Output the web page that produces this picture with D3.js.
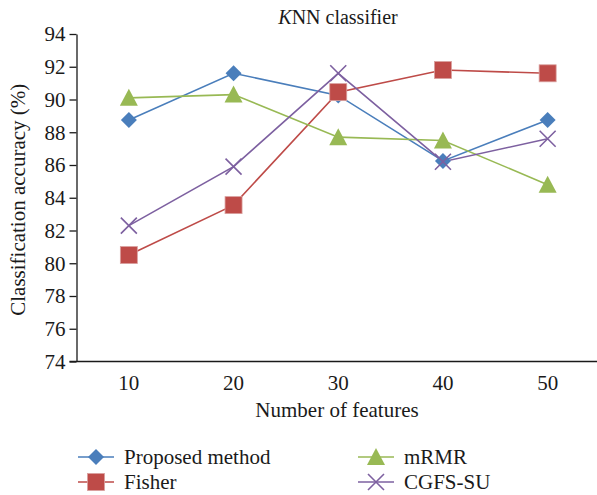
<!DOCTYPE html>
<html>
<head>
<meta charset="utf-8"/>
<script src="https://cdn.jsdelivr.net/npm/d3@7"></script>
<style>
body { margin: 0; background: #fff; }
svg text { font-family: "Liberation Serif", "Times New Roman", serif !important; fill: #1a1a1a; }
.axis path, .axis line { stroke: #1a1a1a; stroke-width: 1.3px; }
.axis text { font-size: 21px; }
</style>
</head>
<body>
<svg id="chart" width="597" height="495"></svg>
<script>
// data
var features = [10, 20, 30, 40, 50];
var proposed = [88.75, 91.6, 90.25, 86.25, 88.75];
var fisher   = [80.5, 83.55, 90.45, 91.8, 91.6];
var mrmr     = [90.1, 90.3, 87.7, 87.5, 84.8];
var cgfs     = [82.3, 85.9, 91.6, 86.2, 87.6];
var yTicks = [74, 76, 78, 80, 82, 84, 86, 88, 90, 92, 94];

var series = [
  {name: "Proposed method", values: proposed, color: "#4a7ebb", shape: "diamond"},
  {name: "Fisher", values: fisher, color: "#be4b48", shape: "square"},
  {name: "mRMR", values: mrmr, color: "#98b954", shape: "triangle"},
  {name: "CGFS-SU", values: cgfs, color: "#7d60a0", shape: "cross"}
];

var svg = d3.select("#chart");
var plotL = 76.5, plotR = 600, plotT = 34, plotB = 361.5;

var x = d3.scaleBand().domain(features).range([plotL, plotR]);
var y = d3.scaleLinear().domain([74, 94]).range([plotB, plotT]);

svg.append("g")
    .attr("class", "axis")
    .attr("transform", "translate(" + plotL + ",0)")
    .call(d3.axisLeft(y).tickValues(yTicks).tickSize(7).tickSizeOuter(0).tickPadding(4))
    .call(function(g) { g.attr("font-family", null).attr("font-size", null); g.selectAll("text").attr("dy", "0.33em"); });

svg.append("g")
    .attr("class", "axis")
    .attr("transform", "translate(0," + plotB + ")")
    .call(d3.axisBottom(x).tickSize(0).tickPadding(14))
    .call(function(g) {
      g.attr("font-family", null).attr("font-size", null);
      g.select(".domain").attr("d", "M" + (plotL - 7) + ",0H" + plotR);
    });

function marker(g, shape, color) {
  if (shape === "diamond") {
    g.append("path").attr("d", "M0,-8L8,0L0,8L-8,0Z").attr("fill", color);
  } else if (shape === "square") {
    g.append("rect").attr("x", -8.5).attr("y", -8.5).attr("width", 17).attr("height", 17)
      .attr("fill", color).attr("stroke", "#d9a09e").attr("stroke-width", 0.8);
  } else if (shape === "triangle") {
    g.append("path").attr("d", "M0,-9L9,8L-9,8Z").attr("fill", color);
  } else {
    g.append("path").attr("d", "M-8,-8L8,8M-8,8L8,-8").attr("stroke", color)
      .attr("stroke-width", 1.6).attr("fill", "none");
  }
}

var line = d3.line()
    .x(function(d, i) { return x(features[i]) + x.bandwidth() / 2; })
    .y(function(d) { return y(d); });

series.forEach(function(s) {
  svg.append("path")
      .datum(s.values)
      .attr("fill", "none")
      .attr("stroke", s.color)
      .attr("stroke-width", 1.6)
      .attr("d", line);
});

series.forEach(function(s) {
  s.values.forEach(function(v, i) {
    var g = svg.append("g")
        .attr("transform", "translate(" + (x(features[i]) + x.bandwidth() / 2) + "," + y(v) + ")");
    marker(g, s.shape, s.color);
  });
});

// title
var title = svg.append("text")
    .attr("x", 338).attr("y", 24)
    .attr("text-anchor", "middle")
    .style("font-size", "20px");
title.append("tspan").style("font-style", "italic").text("K");
title.append("tspan").text("NN classifier");

svg.append("text")
    .attr("transform", "translate(25," + ((plotT + plotB) / 2 + 2) + ") rotate(-90)")
    .attr("text-anchor", "middle")
    .style("font-size", "21px")
    .text("Classification accuracy (%)");

svg.append("text")
    .attr("x", 337).attr("y", 417)
    .attr("text-anchor", "middle")
    .style("font-size", "21px")
    .text("Number of features");

// legend
var legendPos = [[78, 457], [78, 482], [358, 457], [358, 482]];
series.forEach(function(s, i) {
  var p = legendPos[i];
  var g = svg.append("g").attr("transform", "translate(" + p[0] + "," + p[1] + ")");
  g.append("line").attr("x1", 0).attr("x2", 36).attr("stroke", s.color).attr("stroke-width", 1.6);
  var m = g.append("g").attr("transform", "translate(18,0)");
  marker(m, s.shape, s.color);
  g.append("text").attr("x", 46).attr("dy", "0.33em").style("font-size", "21px").text(s.name);
});
</script>
</body>
</html>
